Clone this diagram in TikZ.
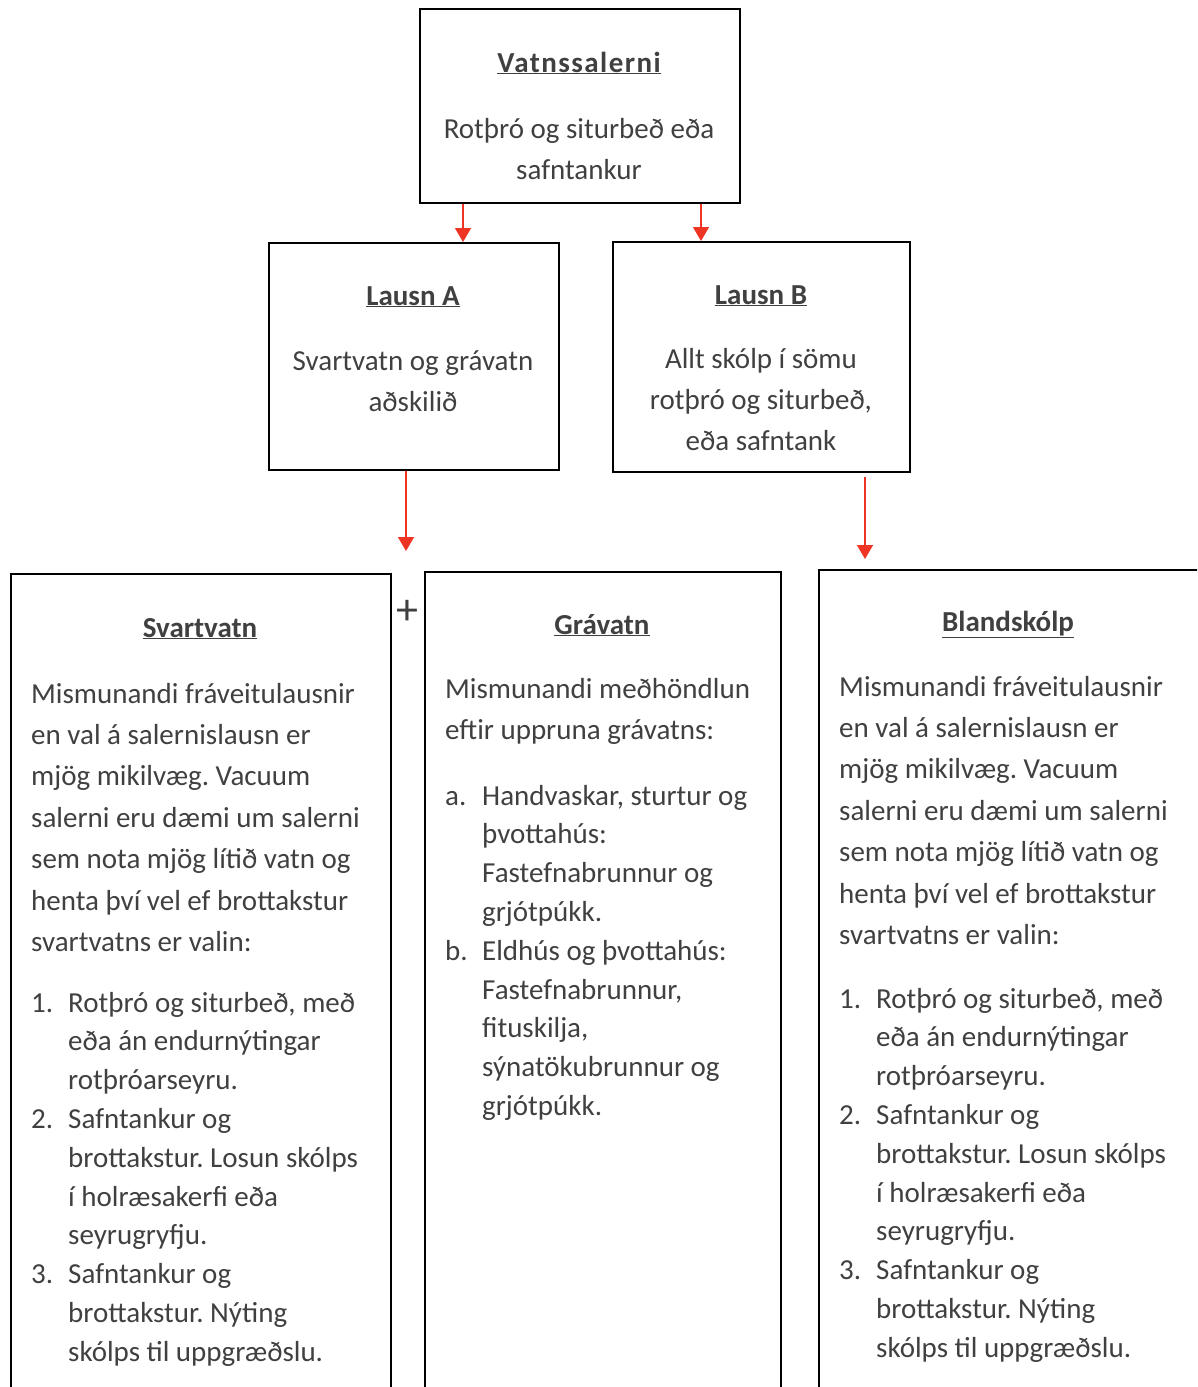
\documentclass[tikz,border=0pt]{standalone}
\usepackage{fontspec}
\setmainfont{Carlito}
\usepackage{xcolor}
\usepackage{tikz}
\usetikzlibrary{arrows.meta}
\frenchspacing
\definecolor{textgray}{HTML}{404040}
\definecolor{arrowred}{HTML}{EE3524}
\newcommand{\leftlines}[1]{\begin{tabular}[t]{@{}l@{}}#1\end{tabular}}
\newcommand{\midlines}[1]{\begin{tabular}[t]{@{}c@{}}#1\end{tabular}}
\tikzset{
  box/.style={draw=black, line width=2pt, anchor=north west, inner sep=0pt},
  ttl/.style={text=textgray, font=\bfseries\fontsize{29}{41.4}\selectfont, anchor=base, inner sep=0pt},
  body/.style={text=textgray, font=\fontsize{29}{41.4}\selectfont, anchor=base west, inner sep=0pt},
  cbody/.style={body, anchor=base},
  lst/.style={body, font=\fontsize{29}{38.8}\selectfont},
  arr/.style={draw=arrowred, line width=1.5pt, -{Triangle[length=14pt, width=16pt]}},
}

\begin{document}
\begin{tikzpicture}[x=1pt, y=-1pt]
  \useasboundingbox (0,0) rectangle (1197,1387);
  \clip (0,0) rectangle (1197,1387);

  % boxes
  \node[box, minimum width=320, minimum height=194] (vatn) at (419,8) {};
  \node[box, minimum width=290, minimum height=227] (lausnA) at (268,242) {};
  \node[box, minimum width=297, minimum height=230] (lausnB) at (612,241) {};
  \node[box, minimum width=380, minimum height=900] (svart) at (10,573) {};
  \node[box, minimum width=356, minimum height=900] (grav) at (424,571) {};
  \node[box, minimum width=500, minimum height=900] (bland) at (818,569) {};

  % arrows
  \coordinate (xA) at (463,0);
  \coordinate (xB) at (701,0);
  \coordinate (aEnd) at (406,551);
  \coordinate (bStart) at (865,477);
  \coordinate (bEnd) at (865,559);
  \draw[arr] (vatn.south -| xA) -- (lausnA.north -| xA);
  \draw[arr] (vatn.south -| xB) -- (lausnB.north -| xB);
  \draw[arr] (lausnA.south -| aEnd) -- (aEnd);
  \draw[arr] (bStart) -- (bEnd);
  \node[text=textgray, font=\fontsize{44}{48}\selectfont, inner sep=0pt] (plus) at (407,612) {+};

  % top
  \node[ttl] (vatnTitle) at (579,72) {\addfontfeature{LetterSpace=5}\underline{Vatnssalerni}};
  \node[cbody] (vatnText) at (579,138) {\midlines{Rotþró og siturbeð eða\\safntankur}};

  % Lausn A / B
  \node[ttl] (lausnATitle) at (413,305) {\underline{Lausn A}};
  \node[cbody] (lausnAText) at (413,370) {\midlines{Svartvatn og grávatn\\aðskilið}};
  \node[ttl] (lausnBTitle) at (761,304) {\underline{Lausn B}};
  \node[cbody] (lausnBText) at (761,368) {\midlines{Allt skólp í sömu\\rotþró og siturbeð,\\eða safntank}};

  % Svartvatn
  \node[ttl] (svartTitle) at (200,637) {\underline{Svartvatn}};
  \node[body] (svartText) at (31,703) {\leftlines{Mismunandi fráveitulausnir\\en val á salernislausn er\\mjög mikilvæg. Vacuum\\salerni eru dæmi um salerni\\sem nota mjög lítið vatn og\\henta því vel ef brottakstur\\svartvatns er valin:}};
  \node[lst] (svartN1) at (31,1012) {1.};
  \node[lst] (svartI1) at (68,1012) {\leftlines{Rotþró og siturbeð, með\\eða án endurnýtingar\\rotþróarseyru.}};
  \node[lst] (svartN2) at (31,1128.4) {2.};
  \node[lst] (svartI2) at (68,1128.4) {\leftlines{Safntankur og\\brottakstur. Losun skólps\\í holræsakerfi eða\\seyrugryfju.}};
  \node[lst] (svartN3) at (31,1283.6) {3.};
  \node[lst] (svartI3) at (68,1283.6) {\leftlines{Safntankur og\\brottakstur. Nýting\\skólps til uppgræðslu.}};

  % Grávatn
  \node[ttl] (gravTitle) at (602,634) {\underline{Grávatn}};
  \node[body] (gravText) at (445,698) {\leftlines{Mismunandi meðhöndlun\\eftir uppruna grávatns:}};
  \node[lst] (gravNa) at (445,805) {a.};
  \node[lst] (gravIa) at (482,805) {\leftlines{Handvaskar, sturtur og\\þvottahús:\\Fastefnabrunnur og\\grjótpúkk.}};
  \node[lst] (gravNb) at (445,960.2) {b.};
  \node[lst] (gravIb) at (482,960.2) {\leftlines{Eldhús og þvottahús:\\Fastefnabrunnur,\\fituskilja,\\sýnatökubrunnur og\\grjótpúkk.}};

  % Blandskólp
  \node[ttl] (blandTitle) at (1008,631) {\underline{Blandskólp}};
  \node[body] (blandText) at (839,696) {\leftlines{Mismunandi fráveitulausnir\\en val á salernislausn er\\mjög mikilvæg. Vacuum\\salerni eru dæmi um salerni\\sem nota mjög lítið vatn og\\henta því vel ef brottakstur\\svartvatns er valin:}};
  \node[lst] (blandN1) at (839,1008) {1.};
  \node[lst] (blandI1) at (876,1008) {\leftlines{Rotþró og siturbeð, með\\eða án endurnýtingar\\rotþróarseyru.}};
  \node[lst] (blandN2) at (839,1124.4) {2.};
  \node[lst] (blandI2) at (876,1124.4) {\leftlines{Safntankur og\\brottakstur. Losun skólps\\í holræsakerfi eða\\seyrugryfju.}};
  \node[lst] (blandN3) at (839,1279.6) {3.};
  \node[lst] (blandI3) at (876,1279.6) {\leftlines{Safntankur og\\brottakstur. Nýting\\skólps til uppgræðslu.}};
\end{tikzpicture}
\end{document}
